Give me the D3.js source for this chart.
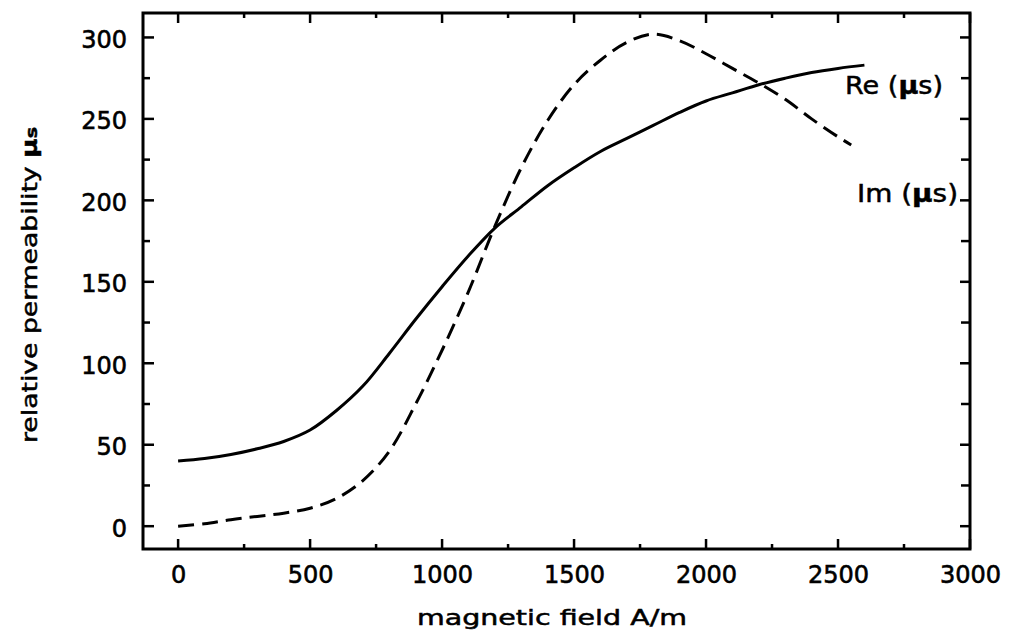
<!DOCTYPE html>
<html><head><meta charset="utf-8">
<script src="https://cdn.jsdelivr.net/npm/d3@7"></script>
<style>body{margin:0;background:#fff}svg{display:block}text{font-family:"DejaVu Sans",sans-serif;fill:#000}</style>
</head><body><svg id="c" width="1011" height="632"></svg>
<script>
const fieldRe = [0,100,200,300,400,500,600,700,800,900,1000,1100,1200,1300,1400,1500,1600,1700,1800,1900,2000,2100,2200,2300,2400,2500,2600];
const reValues = [40,41.5,44,47.5,52,59,71,86,106,127,147,166,183,196,209,220,230,238,246,254,261,266,271,275,278.5,281,283];
const fieldIm = [0,100,200,300,400,500,600,700,800,900,1000,1100,1200,1300,1400,1500,1600,1700,1800,1900,2000,2100,2200,2300,2400,2500,2550];
const imValues = [0,1.5,4,6,8,11,17,28,46,75,108,144,184,220,249,271,286,297,302,298,290,281,272,262,250,239,234];
const xTicks = [0,500,1000,1500,2000,2500,3000];
const yTicks = [0,50,100,150,200,250,300];

const svg = d3.select("#c");
const L=143,R=970,T=13,B=549;
const x = d3.scaleLinear().domain([-133,3000]).range([L,R]);
const y = d3.scaleLinear().domain([-14,315]).range([B,T]);

const line = d3.line().x(d=>x(d[0])).y(d=>y(d[1])).curve(d3.curveCatmullRom);
svg.append("path").datum(fieldRe.map((f,i)=>[f,reValues[i]]))
  .attr("d",line).attr("fill","none").attr("stroke","#000").attr("stroke-width",3);
svg.append("path").datum(fieldIm.map((f,i)=>[f,imValues[i]]))
  .attr("d",line).attr("fill","none").attr("stroke","#000").attr("stroke-width",3).attr("stroke-dasharray","16,8");

const xMinor = d3.range(250,3000,500);
const yMinor = d3.range(25,315,50);

// bottom axis
const gB = svg.append("g").attr("transform",`translate(0,${B})`)
  .call(d3.axisBottom(x).tickValues(xTicks).tickSize(0).tickPadding(17).tickFormat(d3.format("d")));
gB.select(".domain").remove();
gB.selectAll("text").attr("font-size",24).attr("stroke","#000").attr("stroke-width",0.6);
// left axis
const gL = svg.append("g").attr("transform",`translate(${L},0)`)
  .call(d3.axisLeft(y).tickValues(yTicks).tickSize(0).tickPadding(16));
gL.select(".domain").remove();
gL.selectAll("text").attr("font-size",24).attr("dy","0.42em").attr("stroke","#000").attr("stroke-width",0.6);

// ticks (inward)
const tk = svg.append("g").attr("stroke","#000").attr("stroke-width",2.5);
xTicks.forEach(v=>{ tk.append("line").attr("x1",x(v)).attr("x2",x(v)).attr("y1",B).attr("y2",B-10);
  tk.append("line").attr("x1",x(v)).attr("x2",x(v)).attr("y1",T).attr("y2",T+10);});
xMinor.forEach(v=>{ tk.append("line").attr("x1",x(v)).attr("x2",x(v)).attr("y1",B).attr("y2",B-5);
  tk.append("line").attr("x1",x(v)).attr("x2",x(v)).attr("y1",T).attr("y2",T+5);});
yTicks.forEach(v=>{ tk.append("line").attr("y1",y(v)).attr("y2",y(v)).attr("x1",L).attr("x2",L+11);
  tk.append("line").attr("y1",y(v)).attr("y2",y(v)).attr("x1",R).attr("x2",R-10);});
yMinor.forEach(v=>{ tk.append("line").attr("y1",y(v)).attr("y2",y(v)).attr("x1",L).attr("x2",L+7);
  tk.append("line").attr("y1",y(v)).attr("y2",y(v)).attr("x1",R).attr("x2",R-9);});

svg.append("rect").attr("x",L).attr("y",T).attr("width",R-L).attr("height",B-T)
  .attr("fill","none").attr("stroke","#000").attr("stroke-width",3);

// axis titles
svg.append("text").attr("x",417).attr("y",625).attr("font-size",21)
  .attr("textLength",270).attr("lengthAdjust","spacingAndGlyphs")
  .attr("stroke","#000").attr("stroke-width",0.5).text("magnetic field A/m");
const yt = svg.append("text").attr("transform","translate(37,443) rotate(-90)").attr("font-size",21)
  .attr("textLength",316).attr("lengthAdjust","spacingAndGlyphs")
  .attr("stroke","#000").attr("stroke-width",0.5);
yt.append("tspan").text("relative permeability ");
yt.append("tspan").attr("font-weight","bold").text("μ");
yt.append("tspan").attr("font-size",15).attr("font-weight","bold").text("s");

// series labels
const lr = svg.append("text").attr("x",845).attr("y",94).attr("font-size",25)
  .attr("textLength",98).attr("lengthAdjust","spacingAndGlyphs").attr("stroke","#000").attr("stroke-width",0.5);
lr.append("tspan").text("Re (");
lr.append("tspan").attr("font-weight","bold").text("μ");
lr.append("tspan").text("s)");
const li = svg.append("text").attr("x",857).attr("y",202).attr("font-size",25)
  .attr("textLength",101).attr("lengthAdjust","spacingAndGlyphs").attr("stroke","#000").attr("stroke-width",0.5);
li.append("tspan").text("Im (");
li.append("tspan").attr("font-weight","bold").text("μ");
li.append("tspan").text("s)");
</script></body></html>
